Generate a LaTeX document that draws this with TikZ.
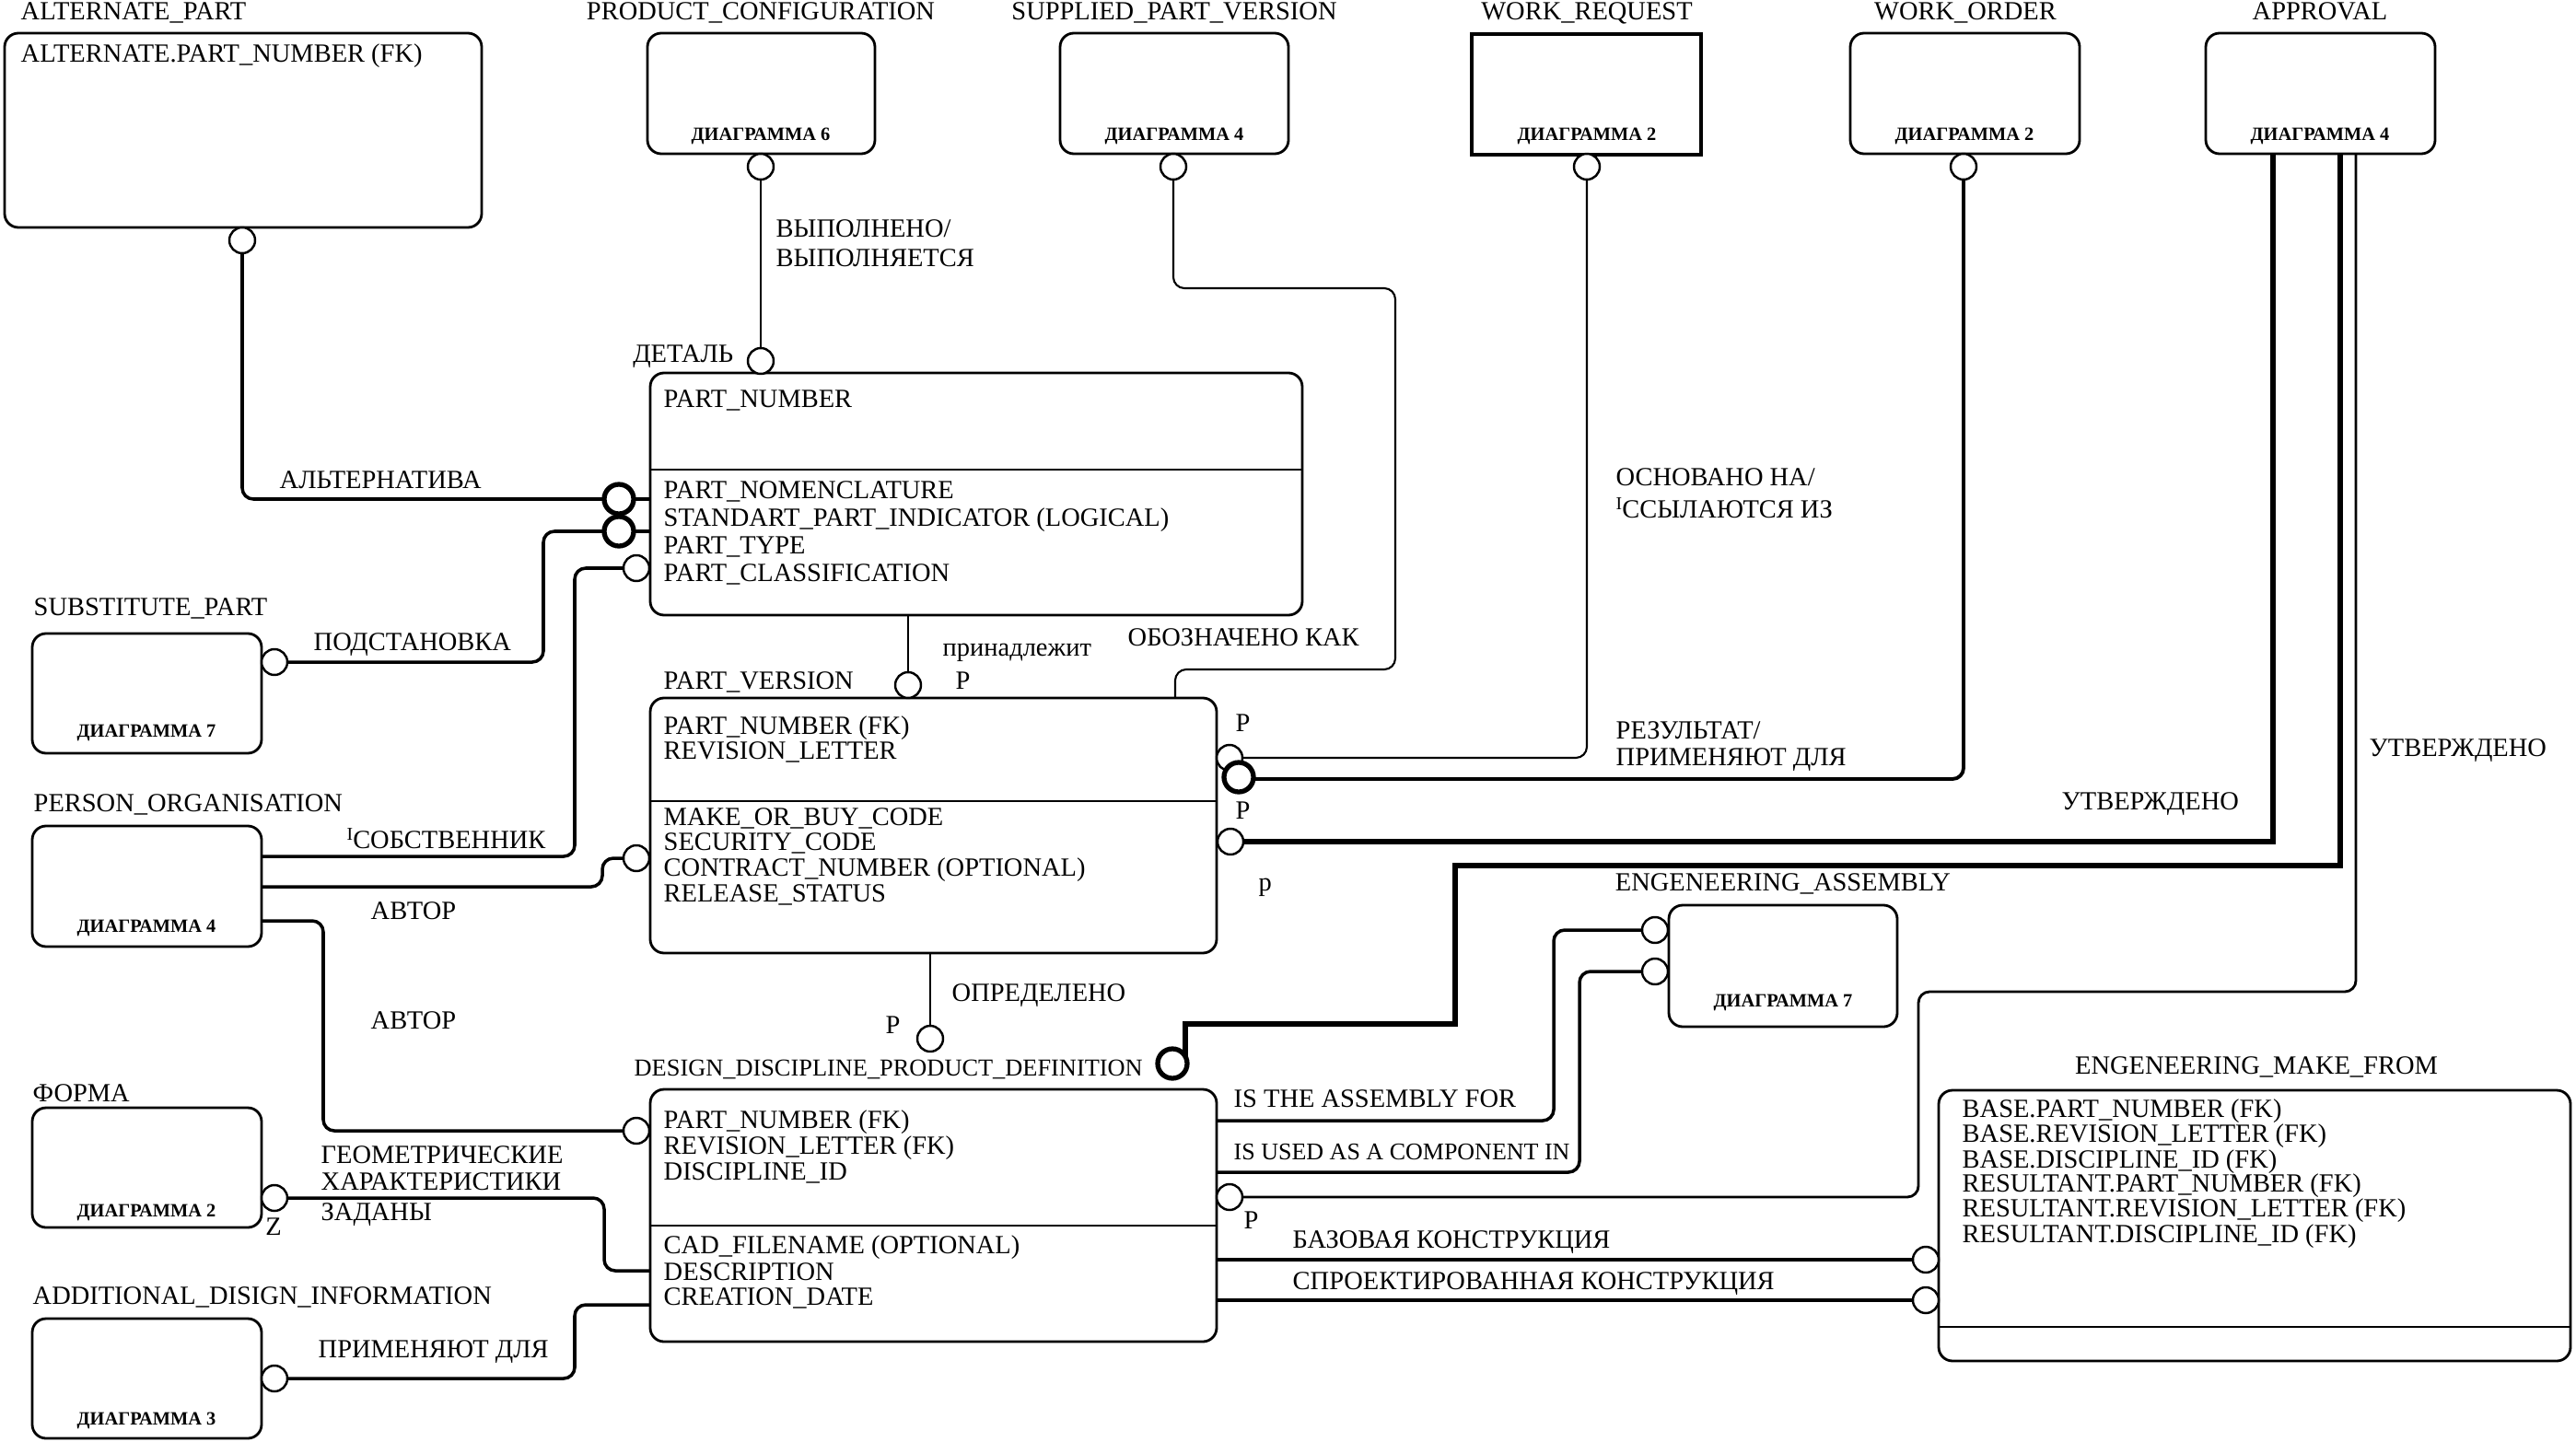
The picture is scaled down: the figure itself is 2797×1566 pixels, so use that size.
\documentclass[tikz,border=0pt]{standalone}
\usepackage{fontspec}
\setmainfont{Liberation Serif}
\usetikzlibrary{backgrounds}
\tikzset{
  ent/.style={draw, line width=0.8pt, rounded corners=1.5mm, fill=white, inner sep=0pt, outer sep=0pt},
  sqent/.style={draw, line width=1.1pt, fill=white, inner sep=0pt, outer sep=0pt},
  lbl/.style={anchor=base west, inner sep=0pt, font=\fontsize{8.1}{9}\selectfont},
  clbl/.style={anchor=base, inner sep=0pt, font=\fontsize{8.1}{9}\selectfont},
  rlbl/.style={anchor=base east, inner sep=0pt, font=\fontsize{8.1}{9}\selectfont},
  dia/.style={inner sep=0pt, font=\fontsize{5.8}{6}\selectfont\bfseries},
  oc/.style={circle, draw, fill=white, line width=0.7pt, minimum size=2.8mm, inner sep=0pt},
  toc/.style={circle, draw, fill=white, line width=1.5pt, minimum size=3.2mm, inner sep=0pt},
  lthin/.style={line width=0.6pt, rounded corners=1.2mm},
  lnorm/.style={line width=1.0pt, rounded corners=1.2mm},
  lthick/.style={line width=1.7pt},
}
\newcommand{\smI}{\raisebox{2.3pt}{\fontsize{5.6}{6}\selectfont I}}
\begin{document}
\begin{tikzpicture}[x=0.1mm,y=-0.1mm]
\useasboundingbox (0,0) rectangle (2797,1566);

% ---------- entity boxes ----------
\node[ent, minimum width=51.8mm, minimum height=21.1mm] (alt) at (264,141.5) {};
\node[ent, minimum width=24.7mm, minimum height=13.1mm] (pc) at (826.5,101.5) {};
\node[ent, minimum width=24.8mm, minimum height=13.1mm] (sup) at (1275,101.5) {};
\node[sqent, minimum width=24.9mm, minimum height=13.1mm] (wr) at (1722.5,102.5) {};
\node[ent, minimum width=24.9mm, minimum height=13.1mm] (wo) at (2133.5,101.5) {};
\node[ent, minimum width=24.9mm, minimum height=13.1mm] (ap) at (2519.5,101.5) {};
\node[ent, minimum width=70.8mm, minimum height=26.3mm] (part) at (1060,536.5) {};
\node[ent, minimum width=61.5mm, minimum height=27.7mm] (pv) at (1013.5,896.5) {};
\node[ent, minimum width=61.5mm, minimum height=27.4mm] (ddpd) at (1013.5,1320) {};
\node[ent, minimum width=24.9mm, minimum height=13.0mm] (sub) at (159.5,753) {};
\node[ent, minimum width=24.9mm, minimum height=13.1mm] (person) at (159.5,962.5) {};
\node[ent, minimum width=24.9mm, minimum height=13.0mm] (forma) at (159.5,1268) {};
\node[ent, minimum width=24.9mm, minimum height=13.0mm] (add) at (159.5,1497) {};
\node[ent, minimum width=24.8mm, minimum height=13.2mm] (ea) at (1936,1049) {};
\node[ent, minimum width=68.6mm, minimum height=29.4mm] (emf) at (2448,1331) {};

% dividers
\draw[line width=0.8pt] (part.west |- 0,510) -- (part.east |- 0,510);
\draw[line width=0.8pt] (pv.west |- 0,870) -- (pv.east |- 0,870);
\draw[line width=0.8pt] (ddpd.west |- 0,1331) -- (ddpd.east |- 0,1331);
\draw[line width=0.8pt] (emf.west |- 0,1441) -- (emf.east |- 0,1441);

% ---------- relationship circles ----------
\node[oc] (calt) at (263,261) {};
\node[oc] (cpc) at (826,181) {};
\node[oc] (cdet) at (826,392) {};
\node[oc] (csup) at (1274,181) {};
\node[oc] (cwr) at (1723,181) {};
\node[oc] (cwo) at (2132,181) {};
\node[toc] (calt2) at (672,542) {};
\node[toc] (csub2) at (672,577) {};
\node[oc] (cown) at (691,617) {};
\node[oc] (csub) at (298,719) {};
\node[oc] (cpv) at (986,744) {};
\node[oc] (caut1) at (691,932) {};
\node[oc] (cwr2) at (1335,823) {};
\node[toc] (cwo2) at (1345,844) {};
\node[oc] (capp1) at (1336,914) {};
\node[oc] (cdd) at (1010,1128) {};
\node[toc] (capp2) at (1273,1155) {};
\node[oc] (caut2) at (691,1228) {};
\node[oc] (cforma) at (298,1301) {};
\node[oc] (cadd) at (298,1497) {};
\node[oc] (capp3) at (1335,1300) {};
\node[oc] (cea1) at (1797,1010) {};
\node[oc] (cea2) at (1797,1055) {};
\node[oc] (cemf1) at (2091,1368) {};
\node[oc] (cemf2) at (2091,1412) {};

% ---------- connectors ----------
\begin{scope}[on background layer]
\draw[lnorm] (calt) -- (263,542) -- (part.west |- 0,542);
\draw[lnorm] (csub) -- (590,719) -- (590,577) -- (part.west |- 0,577);
\draw[lnorm] (cown) -- (624,617) -- (624,930) -- (person.east |- 0,930);
\draw[lnorm] (caut1) -- (654,932) -- (654,963) -- (person.east |- 0,963);
\draw[lnorm] (person.east |- 0,1000) -- (351,1000) -- (351,1228) -- (caut2);
\draw[lnorm] (cforma) -- (656,1301) -- (656,1380) -- (ddpd.west |- 0,1380);
\draw[lnorm] (cadd) -- (624,1497) -- (624,1417) -- (ddpd.west |- 0,1417);
\draw[lthin] (cpc) -- (cdet);
\draw[lthin] (part.south -| cpv) -- (cpv);
\draw[lthin] (csup) -- (1274,313) -- (1515,313) -- (1515,727) -- (1276,727) -- (pv.north -| 1276,0);
\draw[lthin] (cwr) -- (1723,823) -- (cwr2);
\draw[line width=1.1pt, rounded corners=1.2mm] (cwo) -- (2132,846) -- (cwo2.center |- 0,846);
\draw[lthick] (ap.south -| 2468,0) -- (2468,914) -- (capp1);
\draw[lthick] (ap.south -| 2541,0) -- (2541,940) -- (1580,940) -- (1580,1112) -- (1287,1112) -- (1287,1150);
\draw[line width=0.8pt, rounded corners=1.2mm] (ap.south -| 2558,0) -- (2558,1077) -- (2083,1077) -- (2083,1300) -- (capp3);
\draw[lthin] (pv.south -| cdd) -- (cdd);
\draw[lnorm] (ddpd.east |- 0,1217) -- (1687,1217) -- (1687,1010) -- (cea1);
\draw[lnorm] (ddpd.east |- 0,1273) -- (1715,1273) -- (1715,1055) -- (cea2);
\draw[lnorm] (ddpd.east |- cemf1) -- (cemf1);
\draw[lnorm] (ddpd.east |- cemf2) -- (cemf2);
\end{scope}

% ---------- entity names ----------
\node[lbl] (nalt) at (22,22) {ALTERNATE\_PART};
\node[clbl] (npc) at (826,22) {PRODUCT\_CONFIGURATION};
\node[clbl] (nsup) at (1275,22) {SUPPLIED\_PART\_VERSION};
\node[clbl] (nwr) at (1723,22) {WORK\_REQUEST};
\node[clbl] (nwo) at (2134,22) {WORK\_ORDER};
\node[clbl] (nap) at (2519,22) {APPROVAL};
\node[lbl] (nsub) at (36,668) {SUBSTITUTE\_PART};
\node[lbl] (nperson) at (36,881) {PERSON\_ORGANISATION};
\node[lbl] (nforma) at (35,1196) {ФОРМА};
\node[lbl] (nadd) at (35,1416) {ADDITIONAL\_DISIGN\_INFORMATION};
\node[lbl] (npv) at (720,748) {PART\_VERSION};
\node[lbl, font=\fontsize{7.5}{9}\selectfont] (nddpd) at (688,1168) {DESIGN\_DISCIPLINE\_PRODUCT\_DEFINITION};
\node[clbl] (nea) at (1936,967) {ENGENEERING\_ASSEMBLY};
\node[clbl] (nemf) at (2450,1166) {ENGENEERING\_MAKE\_FROM};

% ---------- diagram references ----------
\node[dia] (dpc) at (826,148) {ДИАГРАММА 6};
\node[dia] (dsup) at (1275,148) {ДИАГРАММА 4};
\node[dia] (dwr) at (1723,148) {ДИАГРАММА 2};
\node[dia] (dwo) at (2133,148) {ДИАГРАММА 2};
\node[dia] (dap) at (2519,148) {ДИАГРАММА 4};
\node[dia] (dsub) at (159,796) {ДИАГРАММА 7};
\node[dia] (dperson) at (159,1008) {ДИАГРАММА 4};
\node[dia] (dforma) at (159,1317) {ДИАГРАММА 2};
\node[dia] (dadd) at (159,1543) {ДИАГРАММА 3};
\node[dia] (dea) at (1936,1089) {ДИАГРАММА 7};

% ---------- attributes ----------
\node[lbl] (altk) at (22,67) {ALTERNATE.PART\_NUMBER (FK)};
\node[lbl] (partk) at (720,442) {PART\_NUMBER};
\node[lbl] (parta1) at (720,541) {PART\_NOMENCLATURE};
\node[lbl] (parta2) at (720,571) {STANDART\_PART\_INDICATOR (LOGICAL)};
\node[lbl] (parta3) at (720,601) {PART\_TYPE};
\node[lbl] (parta4) at (720,631) {PART\_CLASSIFICATION};
\node[lbl] (pvk1) at (720,797) {PART\_NUMBER (FK)};
\node[lbl] (pvk2) at (720,824) {REVISION\_LETTER};
\node[lbl] (pva1) at (720,896) {MAKE\_OR\_BUY\_CODE};
\node[lbl] (pva2) at (720,923) {SECURITY\_CODE};
\node[lbl] (pva3) at (720,951) {CONTRACT\_NUMBER (OPTIONAL)};
\node[lbl] (pva4) at (720,979) {RELEASE\_STATUS};
\node[lbl] (ddk1) at (720,1225) {PART\_NUMBER (FK)};
\node[lbl] (ddk2) at (720,1253) {REVISION\_LETTER (FK)};
\node[lbl] (ddk3) at (720,1281) {DISCIPLINE\_ID};
\node[lbl] (dda1) at (720,1361) {CAD\_FILENAME (OPTIONAL)};
\node[lbl] (dda2) at (720,1390) {DESCRIPTION};
\node[lbl] (dda3) at (720,1417) {CREATION\_DATE};
\node[lbl] (emf1) at (2130,1213) {BASE.PART\_NUMBER (FK)};
\node[lbl] (emf2) at (2130,1240) {BASE.REVISION\_LETTER (FK)};
\node[lbl] (emf3) at (2130,1268) {BASE.DISCIPLINE\_ID (FK)};
\node[lbl] (emf4) at (2130,1294) {RESULTANT.PART\_NUMBER (FK)};
\node[lbl] (emf5) at (2130,1321) {RESULTANT.REVISION\_LETTER (FK)};
\node[lbl] (emf6) at (2130,1349) {RESULTANT.DISCIPLINE\_ID (FK)};

% ---------- relationship labels ----------
\node[rlbl] (rdet) at (797,393) {ДЕТАЛЬ};
\node[lbl] (rvyp1) at (842,257) {ВЫПОЛНЕНО/};
\node[lbl] (rvyp2) at (842,289) {ВЫПОЛНЯЕТСЯ};
\node[lbl] (ralt) at (303,530) {АЛЬТЕРНАТИВА};
\node[lbl] (rsub) at (340,706) {ПОДСТАНОВКА};
\node[lbl] (rown) at (376,921) {\smI СОБСТВЕННИК};
\node[lbl] (raut1) at (402,998) {АВТОР};
\node[lbl] (raut2) at (402,1117) {АВТОР};
\node[lbl] (rgeo1) at (348,1263) {ГЕОМЕТРИЧЕСКИЕ};
\node[lbl] (rgeo2) at (348,1292) {ХАРАКТЕРИСТИКИ};
\node[lbl] (rgeo3) at (348,1325) {ЗАДАНЫ};
\node[clbl] (rz) at (297,1341) {Z};
\node[lbl] (radd) at (345,1474) {ПРИМЕНЯЮТ ДЛЯ};
\node[lbl] (rbel) at (1023,712) {принадлежит};
\node[lbl] (rbelp) at (1037,748) {P};
\node[lbl] (rdes) at (1224,701) {ОБОЗНАЧЕНО КАК};
\node[lbl] (rbas1) at (1754,527) {ОСНОВАНО НА/};
\node[lbl] (rbas2) at (1754,562) {\smI ССЫЛАЮТСЯ ИЗ};
\node[lbl] (rres1) at (1754,802) {РЕЗУЛЬТАТ/};
\node[lbl] (rres2) at (1754,831) {ПРИМЕНЯЮТ ДЛЯ};
\node[lbl] (rp1) at (1341,794) {P};
\node[lbl] (rp2) at (1341,889) {P};
\node[lbl] (rp3) at (1366,967) {p};
\node[lbl] (rapp1) at (2238,879) {УТВЕРЖДЕНО};
\node[lbl] (rapp2) at (2572,821) {УТВЕРЖДЕНО};
\node[lbl] (rdef) at (1033,1087) {ОПРЕДЕЛЕНО};
\node[lbl] (rdefp) at (961,1122) {P};
\node[lbl] (rea1) at (1339,1202) {IS THE ASSEMBLY FOR};
\node[lbl, font=\fontsize{7.4}{9}\selectfont] (rea2) at (1339,1259) {IS USED AS A COMPONENT IN};
\node[lbl] (rp4) at (1350,1334) {P};
\node[lbl] (remf1) at (1403,1355) {БАЗОВАЯ КОНСТРУКЦИЯ};
\node[lbl] (remf2) at (1403,1400) {СПРОЕКТИРОВАННАЯ КОНСТРУКЦИЯ};
\end{tikzpicture}
\end{document}
